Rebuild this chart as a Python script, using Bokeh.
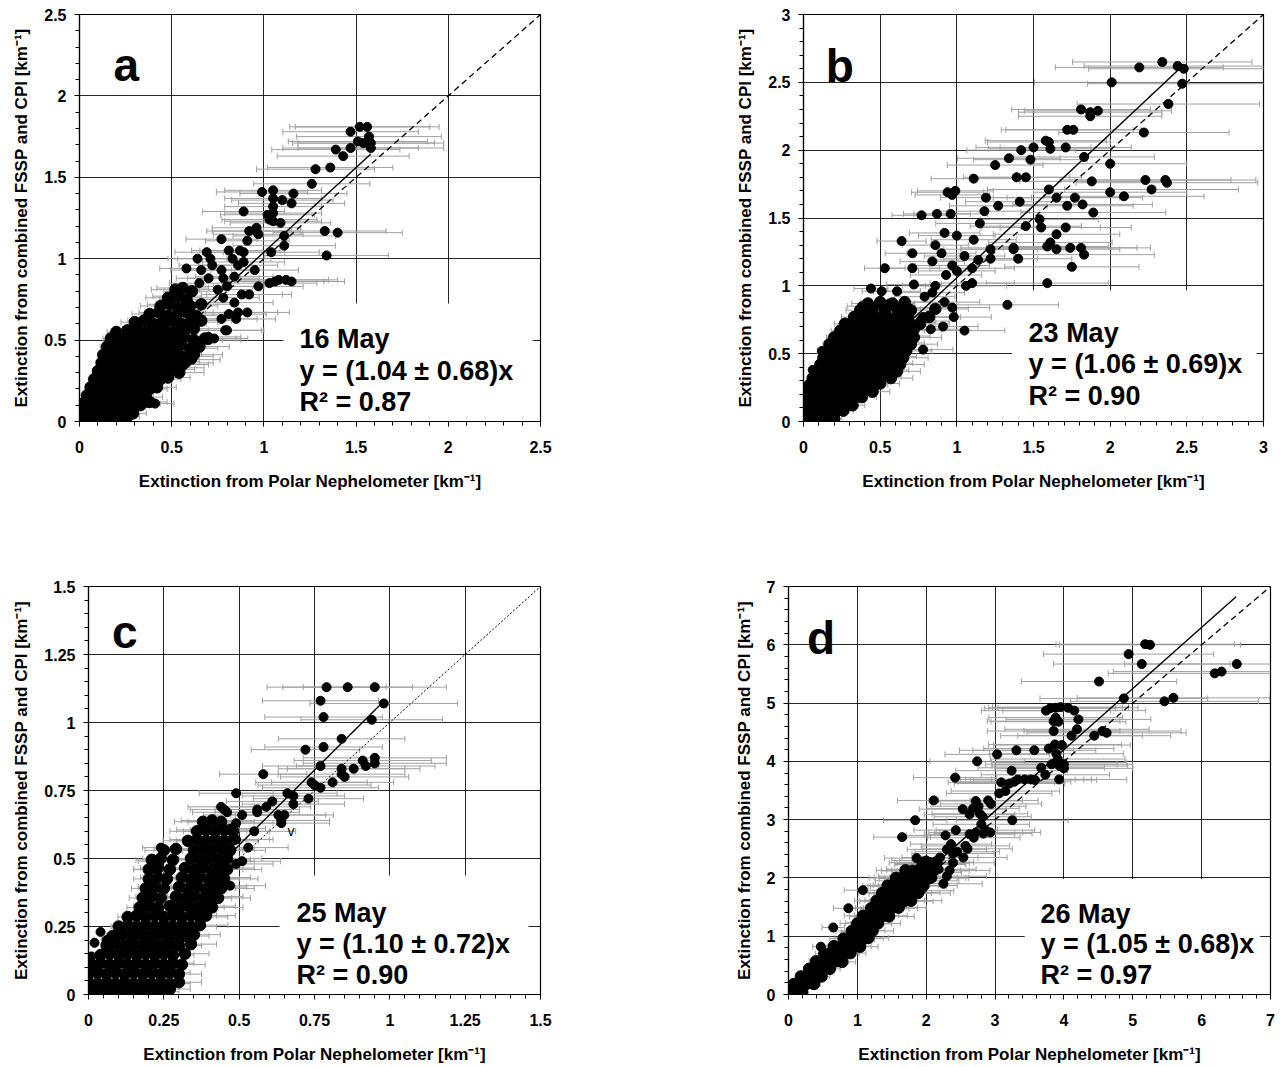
from bokeh.plotting import figure
from bokeh.layouts import column, row
from bokeh.models import (ColumnDataSource, Whisker, TeeHead, BoxAnnotation,
                          Label, FixedTicker, CustomJSTickFormatter)
from bokeh.embed import file_html
from bokeh.resources import INLINE

FONT = "Liberation Sans"
BAR_GREY = "#a0a0a0"
X_TITLE = "Extinction from Polar Nephelometer [km\u207b\u00b9]"
Y_TITLE = "Extinction from combined FSSP and CPI [km\u207b\u00b9]"

# relative uncertainty of the Polar Nephelometer extinction (horizontal bars)
PN_ERROR = 0.25

# ---------------- a : 16 May ----------------
a_ticks = [0, 0.5, 1, 1.5, 2, 2.5]
a_slope, a_fit_end = 1.04, 1.58
a_text = ["16 May", "y = (1.04 \u00b1 0.68)x", "R\u00b2 = 0.87"]
# isolated points
a_neph = [
    1.52, 1.56, 1.47, 1.57, 1.51, 1.54, 1.58, 1.58, 1.47, 1.39,
    1.43, 1.28, 1.36, 1.26, 0.99, 1.05, 1.16, 1.05, 1.10, 1.15,
    0.89, 1.05, 1.05, 1.02, 1.03, 1.05, 1.09, 0.96, 0.97, 0.96,
    0.92, 0.91, 0.77, 1.11, 1.33, 1.40, 1.11, 1.04, 1.34, 0.69,
    0.81, 0.87, 0.89, 0.64, 0.71, 0.83, 0.89, 0.86, 0.58, 0.66,
    0.77, 0.72, 0.95, 0.84, 0.78, 0.70, 0.65, 0.75, 0.80, 1.15,
    1.08, 1.03, 0.97, 0.92, 0.88, 0.78, 0.84, 0.91, 0.86, 0.81,
    0.77, 0.79, 0.70, 0.61, 0.35, 0.41, 0.70, 0.73, 0.58, 0.54,
    0.80, 0.85, 1.06, 1.12,
]
a_fssp = [
    1.81, 1.81, 1.78, 1.75, 1.72, 1.71, 1.71, 1.68, 1.68, 1.67,
    1.63, 1.55, 1.56, 1.46, 1.41, 1.42, 1.40, 1.37, 1.36, 1.34,
    1.29, 1.32, 1.28, 1.27, 1.24, 1.23, 1.22, 1.19, 1.15, 1.17,
    1.17, 1.11, 1.12, 1.14, 1.17, 1.16, 1.08, 1.04, 1.02, 1.04,
    1.05, 1.05, 1.04, 1.00, 1.00, 1.00, 0.98, 0.96, 0.94, 0.93,
    0.93, 0.96, 0.93, 0.89, 0.88, 0.88, 0.85, 0.81, 0.83, 0.86,
    0.87, 0.85, 0.83, 0.78, 0.78, 0.76, 0.73, 0.67, 0.67, 0.66,
    0.63, 0.56, 0.50, 0.38, 0.11, 0.11, 0.52, 0.51, 0.36, 0.33,
    0.56, 0.63, 0.86, 0.87,
]
# dense cloud near the origin
a_cloud_neph = [
    0.00, 0.03, 0.06, 0.10, 0.14, 0.18, 0.22, 0.26,
    0.01, 0.05, 0.09, 0.13, 0.17, 0.21, 0.25, 0.29,
    0.02, 0.06, 0.10, 0.14, 0.18, 0.22, 0.26, 0.30, 0.33, 0.38,
    0.04, 0.08, 0.12, 0.16, 0.20, 0.24, 0.28, 0.32, 0.36,
    0.06, 0.10, 0.14, 0.18, 0.22, 0.26, 0.30, 0.34, 0.38, 0.42,
    0.08, 0.12, 0.16, 0.20, 0.24, 0.28, 0.32, 0.36, 0.40, 0.44, 0.48,
    0.10, 0.14, 0.18, 0.22, 0.26, 0.30, 0.34, 0.38, 0.42, 0.46, 0.50, 0.54,
    0.12, 0.16, 0.20, 0.24, 0.28, 0.32, 0.36, 0.40, 0.44, 0.48, 0.52, 0.56,
    0.13, 0.17, 0.21, 0.25, 0.29, 0.33, 0.37, 0.41, 0.45, 0.49, 0.53, 0.58, 0.62,
    0.15, 0.19, 0.23, 0.27, 0.31, 0.35, 0.39, 0.43, 0.47, 0.51, 0.55, 0.60, 0.65,
    0.17, 0.21, 0.25, 0.29, 0.33, 0.37, 0.41, 0.45, 0.49, 0.53, 0.57, 0.62, 0.68,
    0.20, 0.26, 0.31, 0.36, 0.41, 0.46, 0.51, 0.56, 0.62,
    0.30, 0.35, 0.40, 0.45, 0.50, 0.55, 0.60, 0.66,
    0.38, 0.43, 0.48, 0.53, 0.58, 0.63,
    0.44, 0.49, 0.54, 0.60, 0.66,
    0.48, 0.53, 0.58,
    0.52, 0.56, 0.61,
]
a_cloud_fssp = [
    0.02, 0.03, 0.01, 0.02, 0.03, 0.01, 0.02, 0.03,
    0.07, 0.06, 0.07, 0.05, 0.06, 0.07, 0.06, 0.05,
    0.11, 0.12, 0.10, 0.11, 0.12, 0.10, 0.11, 0.12, 0.10, 0.12,
    0.16, 0.17, 0.15, 0.16, 0.17, 0.15, 0.16, 0.17, 0.15,
    0.21, 0.22, 0.20, 0.21, 0.22, 0.20, 0.21, 0.22, 0.20, 0.21,
    0.26, 0.27, 0.25, 0.26, 0.27, 0.25, 0.26, 0.27, 0.25, 0.26, 0.27,
    0.31, 0.32, 0.30, 0.31, 0.32, 0.30, 0.31, 0.32, 0.30, 0.31, 0.32, 0.30,
    0.36, 0.37, 0.35, 0.36, 0.37, 0.35, 0.36, 0.37, 0.35, 0.36, 0.37, 0.35,
    0.41, 0.42, 0.40, 0.41, 0.42, 0.40, 0.41, 0.42, 0.40, 0.41, 0.42, 0.40, 0.41,
    0.46, 0.47, 0.45, 0.46, 0.47, 0.45, 0.46, 0.47, 0.45, 0.46, 0.47, 0.45, 0.46,
    0.51, 0.52, 0.50, 0.51, 0.52, 0.50, 0.51, 0.52, 0.50, 0.51, 0.52, 0.50, 0.51,
    0.55, 0.56, 0.57, 0.55, 0.56, 0.57, 0.55, 0.56, 0.57,
    0.61, 0.62, 0.60, 0.61, 0.62, 0.60, 0.61, 0.62,
    0.66, 0.67, 0.65, 0.66, 0.67, 0.65,
    0.71, 0.72, 0.70, 0.71, 0.72,
    0.76, 0.77, 0.75,
    0.81, 0.82, 0.80,
]

# ---------------- b : 23 May ----------------
b_ticks = [0, 0.5, 1, 1.5, 2, 2.5, 3]
b_slope, b_fit_end = 1.06, 2.48
b_text = ["23 May", "y = (1.06 \u00b1 0.69)x", "R\u00b2 = 0.90"]
b_neph = [
    2.34, 2.44, 2.19, 2.48, 2.01, 2.47, 2.38, 1.81, 1.92, 1.87,
    1.87, 1.72, 1.76, 2.22, 1.58, 1.60, 1.50, 1.42, 1.61, 1.71,
    1.83, 1.34, 1.48, 1.25, 2.00, 1.11, 1.39, 1.45, 1.88, 2.23,
    2.36, 2.37, 0.94, 0.99, 0.97, 1.60, 2.00, 2.27, 2.09, 1.19,
    1.65, 1.77, 1.41, 1.82, 1.27, 1.72, 1.18, 0.77, 0.87, 0.96,
    1.89, 1.54, 1.15, 1.55, 1.45, 1.71, 1.65, 0.92, 1.00, 0.64,
    0.86, 1.11, 1.61, 1.37, 1.37, 1.74, 1.81, 1.65, 1.59, 1.83,
    1.22, 0.71, 0.90, 1.22, 1.40, 1.05, 0.84, 1.10, 1.75, 0.71,
    0.53, 1.14, 0.97, 0.93, 1.00, 1.06, 1.10, 1.59, 0.72, 0.86,
    0.44, 0.51, 0.61, 0.79, 0.84, 0.92, 1.33, 0.97, 0.78, 0.98,
    0.83, 0.91, 1.05, 0.78, 0.38, 0.56, 0.68, 0.76, 0.65,
    0.12, 0.06, 0.03,
]
b_fssp = [
    2.65, 2.62, 2.61, 2.60, 2.50, 2.49, 2.34, 2.30, 2.29, 2.28,
    2.25, 2.15, 2.15, 2.13, 2.07, 2.06, 2.02, 2.00, 2.01, 2.02,
    1.95, 1.94, 1.93, 1.89, 1.90, 1.79, 1.80, 1.80, 1.77, 1.78,
    1.78, 1.76, 1.69, 1.70, 1.67, 1.71, 1.69, 1.71, 1.66, 1.65,
    1.65, 1.65, 1.62, 1.60, 1.59, 1.59, 1.55, 1.52, 1.53, 1.53,
    1.54, 1.49, 1.46, 1.43, 1.44, 1.43, 1.38, 1.39, 1.37, 1.33,
    1.30, 1.34, 1.32, 1.28, 1.27, 1.28, 1.28, 1.27, 1.29, 1.23,
    1.27, 1.24, 1.24, 1.20, 1.20, 1.22, 1.18, 1.13, 1.14, 1.13,
    1.13, 1.19, 1.15, 1.08, 1.11, 1.00, 1.02, 1.02, 1.01, 1.00,
    0.98, 0.96, 0.96, 0.92, 0.95, 0.88, 0.86, 0.84, 0.77, 0.77,
    0.68, 0.70, 0.67, 0.53, 0.85, 0.87, 0.84, 0.74, 0.80,
    0.52, 0.38, 0.25,
]
b_cloud_neph = [
    0.00, 0.05, 0.10, 0.15, 0.20,
    0.01, 0.06, 0.11, 0.16, 0.21, 0.26,
    0.02, 0.07, 0.12, 0.17, 0.22, 0.27, 0.32,
    0.03, 0.08, 0.13, 0.18, 0.23, 0.28, 0.33, 0.38,
    0.04, 0.09, 0.14, 0.19, 0.24, 0.29, 0.34, 0.39, 0.45,
    0.04, 0.09, 0.14, 0.19, 0.24, 0.29, 0.34, 0.39, 0.44, 0.50,
    0.06, 0.11, 0.16, 0.21, 0.26, 0.31, 0.36, 0.41, 0.46, 0.51, 0.57,
    0.09, 0.14, 0.19, 0.24, 0.29, 0.34, 0.39, 0.44, 0.49, 0.55, 0.61,
    0.11, 0.16, 0.21, 0.26, 0.31, 0.36, 0.41, 0.46, 0.51, 0.57, 0.63,
    0.13, 0.18, 0.23, 0.28, 0.33, 0.38, 0.43, 0.48, 0.53, 0.59, 0.65,
    0.15, 0.20, 0.25, 0.30, 0.35, 0.40, 0.45, 0.50, 0.55, 0.61, 0.67,
    0.17, 0.22, 0.27, 0.32, 0.37, 0.42, 0.47, 0.52, 0.57, 0.63, 0.70,
    0.20, 0.25, 0.30, 0.35, 0.40, 0.45, 0.50, 0.55, 0.60, 0.66, 0.72,
    0.24, 0.29, 0.34, 0.39, 0.44, 0.49, 0.54, 0.59, 0.65, 0.72,
    0.27, 0.33, 0.39, 0.45, 0.51, 0.57, 0.63, 0.69, 0.76,
    0.33, 0.40, 0.47, 0.54, 0.61, 0.68, 0.82,
    0.37, 0.45, 0.53, 0.61, 0.70, 0.86,
    0.42, 0.50, 0.58, 0.66,
]
b_cloud_fssp = [
    0.02, 0.03, 0.02, 0.03, 0.02,
    0.07, 0.08, 0.07, 0.08, 0.07, 0.08,
    0.12, 0.13, 0.12, 0.13, 0.12, 0.13, 0.12,
    0.17, 0.18, 0.17, 0.18, 0.17, 0.18, 0.17, 0.18,
    0.22, 0.23, 0.22, 0.23, 0.22, 0.23, 0.22, 0.23, 0.22,
    0.27, 0.28, 0.27, 0.28, 0.27, 0.28, 0.27, 0.28, 0.27, 0.28,
    0.32, 0.33, 0.32, 0.33, 0.32, 0.33, 0.32, 0.33, 0.32, 0.33, 0.32,
    0.37, 0.38, 0.37, 0.38, 0.37, 0.38, 0.37, 0.38, 0.37, 0.38, 0.37,
    0.42, 0.43, 0.42, 0.43, 0.42, 0.43, 0.42, 0.43, 0.42, 0.43, 0.42,
    0.47, 0.48, 0.47, 0.48, 0.47, 0.48, 0.47, 0.48, 0.47, 0.48, 0.47,
    0.52, 0.53, 0.52, 0.53, 0.52, 0.53, 0.52, 0.53, 0.52, 0.53, 0.52,
    0.57, 0.58, 0.57, 0.58, 0.57, 0.58, 0.57, 0.58, 0.57, 0.58, 0.57,
    0.62, 0.63, 0.62, 0.63, 0.62, 0.63, 0.62, 0.63, 0.62, 0.63, 0.62,
    0.67, 0.68, 0.67, 0.68, 0.67, 0.68, 0.67, 0.68, 0.67, 0.68,
    0.72, 0.73, 0.72, 0.73, 0.72, 0.73, 0.72, 0.73, 0.72,
    0.77, 0.78, 0.77, 0.78, 0.77, 0.78, 0.77,
    0.82, 0.83, 0.82, 0.83, 0.82, 0.83,
    0.87, 0.88, 0.87, 0.88,
]

# ---------------- c : 25 May ----------------
c_ticks = [0, 0.25, 0.5, 0.75, 1, 1.25, 1.5]
c_slope, c_fit_end = 1.10, 0.97
c_text = ["25 May", "y = (1.10 \u00b1 0.72)x", "R\u00b2 = 0.90"]
c_neph = [
    0.79, 0.86, 0.95, 0.77, 0.98, 0.78, 0.94, 0.84, 0.72, 0.78,
    0.95, 0.91, 0.95, 0.92, 0.88, 0.84, 0.84, 0.85, 0.77, 0.58,
    0.81, 0.74, 0.75, 0.77, 0.73, 0.49, 0.66, 0.68, 0.68, 0.61,
    0.59, 0.56, 0.56, 0.51, 0.63, 0.65, 0.64, 0.64, 0.44, 0.45,
    0.46, 0.55, 0.53, 0.51, 0.49, 0.47, 0.44, 0.24, 0.49, 0.47,
    0.49, 0.22, 0.20,
    0.01, 0.04, 0.06, 0.02, 0.00,
]
c_fssp = [
    1.13, 1.13, 1.13, 1.08, 1.07, 1.02, 1.01, 0.94, 0.90, 0.91,
    0.87, 0.86, 0.85, 0.84, 0.83, 0.83, 0.81, 0.80, 0.84, 0.81,
    0.78, 0.78, 0.77, 0.76, 0.72, 0.74, 0.74, 0.73, 0.70, 0.71,
    0.69, 0.68, 0.67, 0.66, 0.66, 0.66, 0.64, 0.63, 0.69, 0.68,
    0.67, 0.60, 0.54, 0.49, 0.48, 0.40, 0.49, 0.54, 0.63, 0.61,
    0.57, 0.49, 0.46,
    0.14, 0.23, 0.20, 0.19, 0.12,
]
c_cloud_neph = [
    0.00, 0.03, 0.06, 0.09, 0.12, 0.15, 0.18, 0.21, 0.24, 0.27,
    0.00, 0.03, 0.06, 0.09, 0.12, 0.15, 0.18, 0.21, 0.24, 0.27, 0.30,
    0.00, 0.03, 0.06, 0.09, 0.12, 0.15, 0.18, 0.21, 0.24, 0.27, 0.30,
    0.01, 0.04, 0.07, 0.10, 0.13, 0.16, 0.19, 0.22, 0.25, 0.28, 0.31,
    0.04, 0.07, 0.10, 0.13, 0.16, 0.19, 0.22, 0.25, 0.28, 0.32,
    0.06, 0.09, 0.12, 0.15, 0.18, 0.21, 0.24, 0.27, 0.30, 0.34,
    0.08, 0.11, 0.14, 0.17, 0.20, 0.23, 0.26, 0.29, 0.32, 0.35,
    0.10, 0.13, 0.16, 0.19, 0.22, 0.25, 0.28, 0.31, 0.34, 0.37,
    0.13, 0.16, 0.19, 0.22, 0.25, 0.28, 0.31, 0.34, 0.37, 0.39,
    0.17, 0.20, 0.23, 0.27, 0.30, 0.33, 0.36, 0.39, 0.41,
    0.18, 0.21, 0.24, 0.29, 0.32, 0.35, 0.38, 0.41, 0.43,
    0.19, 0.22, 0.25, 0.30, 0.33, 0.36, 0.39, 0.42, 0.44,
    0.20, 0.23, 0.26, 0.31, 0.34, 0.37, 0.40, 0.43, 0.45,
    0.20, 0.23, 0.27, 0.32, 0.35, 0.38, 0.41, 0.44, 0.46,
    0.21, 0.24, 0.28, 0.34, 0.37, 0.40, 0.43, 0.46,
    0.25, 0.29, 0.35, 0.38, 0.41, 0.44, 0.47,
    0.33, 0.36, 0.39, 0.42, 0.45, 0.48,
    0.36, 0.39, 0.42, 0.45, 0.48,
    0.38, 0.41, 0.44,
]
c_cloud_fssp = [
    0.010, 0.020, 0.010, 0.020, 0.010, 0.020, 0.010, 0.020, 0.010, 0.020,
    0.045, 0.040, 0.045, 0.040, 0.045, 0.040, 0.045, 0.040, 0.045, 0.040, 0.045,
    0.075, 0.080, 0.075, 0.080, 0.075, 0.080, 0.075, 0.080, 0.075, 0.080, 0.075,
    0.110, 0.115, 0.110, 0.115, 0.110, 0.115, 0.110, 0.115, 0.110, 0.115, 0.110,
    0.145, 0.150, 0.145, 0.150, 0.145, 0.150, 0.145, 0.150, 0.145, 0.150,
    0.180, 0.185, 0.180, 0.185, 0.180, 0.185, 0.180, 0.185, 0.180, 0.185,
    0.215, 0.220, 0.215, 0.220, 0.215, 0.220, 0.215, 0.220, 0.215, 0.220,
    0.250, 0.255, 0.250, 0.255, 0.250, 0.255, 0.250, 0.255, 0.250, 0.255,
    0.285, 0.290, 0.285, 0.290, 0.285, 0.290, 0.285, 0.290, 0.285, 0.290,
    0.320, 0.325, 0.320, 0.325, 0.320, 0.325, 0.320, 0.325, 0.320,
    0.355, 0.360, 0.355, 0.360, 0.355, 0.360, 0.355, 0.360, 0.355,
    0.390, 0.395, 0.390, 0.395, 0.390, 0.395, 0.390, 0.395, 0.390,
    0.425, 0.430, 0.425, 0.430, 0.425, 0.430, 0.425, 0.430, 0.425,
    0.460, 0.465, 0.460, 0.465, 0.460, 0.465, 0.460, 0.465, 0.460,
    0.495, 0.500, 0.495, 0.500, 0.495, 0.500, 0.495, 0.500,
    0.530, 0.535, 0.530, 0.535, 0.530, 0.535, 0.530,
    0.565, 0.570, 0.565, 0.570, 0.565, 0.570,
    0.600, 0.605, 0.600, 0.605, 0.600,
    0.635, 0.640, 0.635,
]

# ---------------- d : 26 May ----------------
d_ticks = [0, 1, 2, 3, 4, 5, 6, 7]
d_slope, d_fit_end = 1.05, 6.50
d_text = ["26 May", "y = (1.05 \u00b1 0.68)x", "R\u00b2 = 0.97"]
d_neph = [
    5.18, 5.25, 4.94, 5.13, 6.51, 6.19, 6.29, 4.51, 4.87, 5.46,
    5.59, 3.80, 3.88, 3.95, 4.06, 4.15, 3.74, 3.88, 3.85, 3.92,
    4.21, 3.85, 4.19, 4.11, 4.44, 4.56, 4.62, 3.87, 3.97, 3.03,
    3.31, 3.57, 3.78, 3.89, 3.91, 2.74, 3.67, 3.82, 4.00, 3.94,
    3.93, 4.00, 2.42, 3.24, 3.33, 3.43, 3.52, 3.58, 3.73, 3.93,
    3.09, 3.21, 3.28, 3.15, 3.06, 2.11, 2.72, 2.90, 2.94, 2.53,
    2.68, 2.76, 2.63, 2.78, 2.82, 1.84, 3.25, 2.80, 2.86, 2.93,
    2.83, 2.43, 1.65, 2.28, 2.63, 2.69, 2.72, 2.36, 2.30, 2.57,
    2.39, 2.54, 1.86, 2.25, 2.01, 2.06, 2.09, 2.18, 2.39, 2.34,
    2.30, 1.98, 1.92, 1.74, 1.68, 1.59, 1.08, 0.87, 0.65, 0.47,
    2.45, 2.60, 2.20, 2.10, 1.90, 2.00,
]
d_fssp = [
    6.01, 6.00, 5.84, 5.67, 5.67, 5.51, 5.54, 5.37, 5.08, 5.03,
    5.09, 4.91, 4.92, 4.93, 4.92, 4.87, 4.87, 4.75, 4.69, 4.68,
    4.72, 4.52, 4.55, 4.44, 4.44, 4.52, 4.49, 4.29, 4.28, 4.12,
    4.19, 4.19, 4.22, 4.13, 4.04, 4.00, 3.89, 3.95, 3.88, 3.92,
    3.98, 3.95, 3.72, 3.84, 3.69, 3.69, 3.69, 3.68, 3.77, 3.69,
    3.64, 3.62, 3.65, 3.49, 3.45, 3.33, 3.32, 3.33, 3.27, 3.18,
    3.19, 3.23, 3.09, 3.10, 3.05, 2.99, 2.99, 2.92, 2.82, 2.78,
    2.76, 2.82, 2.70, 2.73, 2.75, 2.69, 2.78, 2.58, 2.49, 2.55,
    2.42, 2.35, 2.34, 1.90, 2.09, 2.23, 2.00, 2.15, 2.26, 2.13,
    2.03, 1.95, 1.78, 2.03, 1.95, 1.86, 1.79, 1.48, 1.15, 0.82,
    2.45, 2.50, 2.35, 2.25, 2.15, 2.30,
]
d_cloud_neph = [
    0.00, 0.10, 0.20,
    0.08, 0.18, 0.28, 0.37,
    0.18, 0.28, 0.38, 0.48,
    0.30, 0.40, 0.50, 0.60,
    0.40, 0.50, 0.60, 0.70, 0.78,
    0.52, 0.62, 0.72, 0.82, 0.90,
    0.66, 0.76, 0.86, 0.96, 1.04,
    0.80, 0.90, 1.00, 1.10, 1.16,
    0.92, 1.02, 1.12, 1.22,
    1.00, 1.10, 1.20, 1.30,
    1.08, 1.18, 1.28, 1.38, 1.46,
    1.20, 1.30, 1.40, 1.50, 1.60,
    1.28, 1.38, 1.48, 1.58, 1.68, 1.78,
    1.36, 1.46, 1.56, 1.66, 1.76, 1.88,
    1.44, 1.54, 1.64, 1.74, 1.84, 1.96,
    1.56, 1.66, 1.76, 1.86, 1.96, 2.06,
    1.70, 1.80, 1.90, 2.00, 2.10,
    1.95, 2.05, 2.15,
]
d_cloud_fssp = [
    0.05, 0.06, 0.04,
    0.18, 0.17, 0.19, 0.18,
    0.31, 0.30, 0.32, 0.31,
    0.44, 0.45, 0.43, 0.44,
    0.57, 0.56, 0.58, 0.57, 0.56,
    0.70, 0.71, 0.69, 0.70, 0.71,
    0.83, 0.82, 0.84, 0.83, 0.82,
    0.96, 0.97, 0.95, 0.96, 0.97,
    1.09, 1.08, 1.10, 1.09,
    1.22, 1.23, 1.21, 1.22,
    1.35, 1.34, 1.36, 1.35, 1.34,
    1.48, 1.49, 1.47, 1.48, 1.49,
    1.61, 1.60, 1.62, 1.61, 1.60, 1.61,
    1.74, 1.75, 1.73, 1.74, 1.75, 1.74,
    1.87, 1.86, 1.88, 1.87, 1.86, 1.87,
    2.00, 2.01, 1.99, 2.00, 2.01, 2.00,
    2.13, 2.12, 2.14, 2.13, 2.12,
    2.26, 2.25, 2.27,
]


def bar_source(neph, fssp):
    return ColumnDataSource(dict(
        x=neph, y=fssp,
        lo=[v * (1 - PN_ERROR) for v in neph],
        hi=[v * (1 + PN_ERROR) for v in neph],
    ))


def make_panel(neph, fssp, cloud_neph, cloud_fssp, ticks, slope, fit_end, letter, text,
               width, height, borders, letter_xy, text_x, text_y,
               blank, dash, dash_width=1.3):
    lim = ticks[-1]
    left, right, top, bottom = borders
    p = figure(width=width, height=height, x_range=(0, lim), y_range=(0, lim),
               output_backend="svg", toolbar_location=None,
               min_border_left=left, min_border_right=right,
               min_border_top=top, min_border_bottom=bottom,
               background_fill_color="white", border_fill_color="white")
    step = ticks[1] - ticks[0]
    minor = [k * step / 5 for k in range(5 * (len(ticks) - 1) + 1)]
    for ax in (p.xaxis[0], p.yaxis[0]):
        ax.ticker = FixedTicker(ticks=ticks, minor_ticks=minor)
        ax.formatter = CustomJSTickFormatter(code="return String(tick)")
        ax.major_label_text_font = FONT
        ax.major_label_text_font_style = "bold"
        ax.major_label_text_font_size = "16px"
        ax.major_label_text_color = "black"
        ax.axis_label_text_font = FONT
        ax.axis_label_text_font_style = "bold"
        ax.axis_label_text_font_size = "17px"
        ax.axis_label_text_color = "black"
        ax.axis_line_color = "black"
        ax.axis_line_width = 1.2
        ax.major_tick_in = 0
        ax.major_tick_out = 5
        ax.minor_tick_in = 0
        ax.minor_tick_out = 4
        ax.major_tick_line_color = "black"
        ax.minor_tick_line_color = "black"
    p.xaxis.axis_label = X_TITLE
    p.yaxis.axis_label = Y_TITLE
    p.xaxis.major_label_standoff = 14
    p.xaxis.axis_label_standoff = 16
    p.yaxis.major_label_standoff = 8
    p.yaxis.axis_label_standoff = 10
    p.grid.grid_line_color = "black"
    p.grid.grid_line_alpha = 0.85
    p.grid.grid_line_width = 1
    p.outline_line_color = "black"
    p.outline_line_width = 1.2
    p.outline_line_alpha = 1

    # white patch behind the regression text, hiding the grid there
    p.add_layout(BoxAnnotation(left=blank[0], right=blank[1], bottom=0, top=blank[2],
                               fill_color="white", fill_alpha=1, line_alpha=0,
                               level="underlay"))

    cloud = bar_source(cloud_neph, cloud_fssp)
    single = bar_source(neph, fssp)
    for src in (cloud, single):
        p.add_layout(Whisker(source=src, base="y", lower="lo", upper="hi",
                             dimension="width", line_color=BAR_GREY, line_width=1,
                             lower_head=TeeHead(size=6, line_color=BAR_GREY, line_width=1),
                             upper_head=TeeHead(size=6, line_color=BAR_GREY, line_width=1)))

    p.line([0, lim], [0, lim], line_color="black", line_dash=dash, line_width=dash_width)
    p.line([0, fit_end], [0, slope * fit_end], line_color="black", line_width=1.4)
    p.scatter("x", "y", source=cloud, size=11.5, color="black")
    p.scatter("x", "y", source=single, size=9, color="black")

    p.add_layout(Label(x=letter_xy[0], y=letter_xy[1], text=letter, text_font=FONT,
                       text_font_style="bold", text_font_size="46px",
                       text_color="black", text_baseline="alphabetic"))
    for t, ty in zip(text, text_y):
        p.add_layout(Label(x=text_x, y=ty, text=t, text_font=FONT,
                           text_font_style="bold", text_font_size="27px",
                           text_color="black", text_baseline="alphabetic"))
    return p


pa = make_panel(a_neph, a_fssp, a_cloud_neph, a_cloud_fssp, a_ticks, a_slope, a_fit_end,
                "a", a_text, 640, 550, (79, 100, 14, 129), (0.185, 2.187), 1.193,
                (0.508, 0.309, 0.119), (1.106, 2.457, 0.725), "6 4")
pb = make_panel(b_neph, b_fssp, b_cloud_neph, b_cloud_fssp, b_ticks, b_slope, b_fit_end,
                "b", b_text, 642, 550, (163, 19, 14, 129), (0.145, 2.624), 1.468,
                (0.649, 0.427, 0.19), (1.36, 2.955, 0.966), "6 4")
pc = make_panel(c_neph, c_fssp, c_cloud_neph, c_cloud_fssp, c_ticks, c_slope, c_fit_end,
                "c", c_text, 640, 516, (88, 100, 36, 72), (0.078, 1.331), 0.69,
                (0.298, 0.1875, 0.0735), (0.634, 1.46, 0.4375), "2 2", dash_width=1)
pc.add_layout(Label(x=0.66, y=0.60, text="v", text_font=FONT, text_font_size="14px",
                    text_color="black", text_baseline="alphabetic"))
pd = make_panel(d_neph, d_fssp, d_cloud_neph, d_cloud_fssp, d_ticks, d_slope, d_fit_end,
                "d", d_text, 642, 516, (148, 12, 36, 72), (0.27, 6.125), 3.66,
                (1.385, 0.875, 0.326), (3.43, 6.85, 1.98), "6 4")

layout = column(row(pa, pb), row(pc, pd))
open("out.html", "w").write(file_html(layout, INLINE))
